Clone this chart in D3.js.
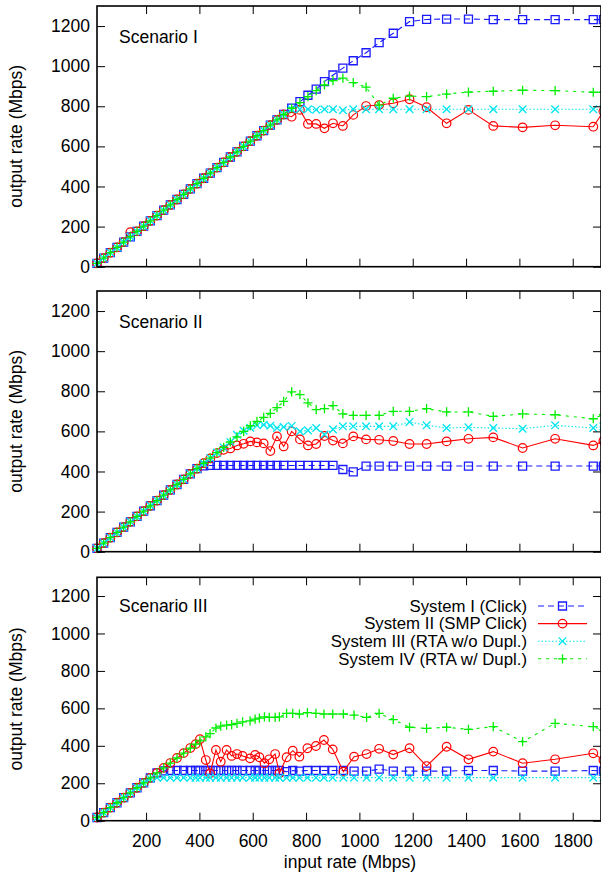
<!DOCTYPE html>
<html>
<head>
<meta charset="utf-8">
<script src="https://cdn.jsdelivr.net/npm/d3@7"></script>
<style>
body { margin: 0; background: #fff; }
svg { display: block; font-family: "Liberation Sans", Arial, Helvetica, sans-serif; }
</style>
</head>
<body>
<svg id="chart" width="601" height="878"></svg>
<script>
// input rate (Mbps) of the measurement points, scenarios I and II
var rateAB = [16,41,66,91,116,141,166,191,216,241,266,291,316,341,366,391,416,441,466,491,516,541,566,591,616,641,666,691,716,746,777,807,838,869,901,938,977,1025,1074,1127,1188,1252,1327,1409,1502,1612,1734,1877,1915];
// input rate (Mbps), scenario III
var rateC = [16,41,66,91,116,141,166,191,216,241,266,291,316,341,366,386,402,424,440,462,480,502,521,541,562,590,609,625,644,662,684,700,727,750,775,805,837,867,900,940,980,1027,1074,1127,1188,1252,1327,1409,1502,1612,1734,1877,1915];

var xTicks = [200,400,600,800,1000,1200,1400,1600,1800];
var yTicks = [0,200,400,600,800,1000,1200];

var scenarioNames = ["Scenario I", "Scenario II", "Scenario III"];
var systemNames = ["System I (Click)", "System II (SMP Click)", "System III (RTA w/o Dupl.)", "System IV (RTA w/ Dupl.)"];

// output rate (Mbps), scenario I
var s1Click = [17,43,70,96,123,149,176,202,229,255,282,308,335,361,388,414,441,467,494,520,547,573,600,626,653,679,706,732,759,791,823,855,885,923,956,990,1027,1067,1117,1164,1222,1233,1235,1235,1232,1232,1232,1232,1232];
var s1Smp = [17,43,70,96,123,172,176,202,229,255,282,308,335,361,388,414,441,467,494,520,547,573,600,626,653,679,706,732,759,748,782,712,712,690,715,702,757,801,806,815,835,795,715,782,702,695,705,698,775];
var s1RtaNoDup = [17,43,70,96,123,149,176,202,229,255,282,308,335,361,388,414,441,467,494,520,547,573,600,626,653,679,706,732,759,785,785,785,783,785,785,780,785,785,785,785,785,785,785,785,785,785,785,785,785];
var s1RtaDup = [17,43,70,96,123,149,176,202,229,255,282,308,335,361,388,414,441,467,494,520,547,573,600,626,653,679,706,732,759,790,818,848,878,906,928,940,918,895,806,840,851,848,861,871,875,880,878,870,870];

// output rate (Mbps), scenario II
var s2Click = [17,43,70,96,123,149,176,202,229,255,282,308,335,361,388,414,428,430,430,430,430,430,430,430,430,430,430,430,430,430,430,430,430,430,430,410,398,427,427,427,427,427,427,427,427,427,427,427,427];
var s2Smp = [17,43,70,96,123,149,176,202,229,255,282,308,335,361,388,414,441,465,492,508,515,530,538,550,545,540,502,575,525,600,560,530,537,577,554,540,575,560,558,552,537,537,550,563,570,517,563,530,552];
var s2RtaNoDup = [17,43,70,96,123,149,176,202,229,255,282,308,335,361,388,414,441,467,494,520,547,583,603,618,630,633,628,617,622,627,600,605,617,585,610,625,625,625,625,625,647,630,617,620,617,613,630,617,625];
var s2RtaDup = [17,43,70,96,123,149,176,202,229,255,282,308,335,361,388,414,441,467,494,520,547,573,600,628,650,670,690,718,750,797,783,742,708,713,728,687,680,680,680,700,700,713,697,697,675,687,683,663,683];

// output rate (Mbps), scenario III
var s3Click = [17,43,70,96,123,149,176,202,229,255,266,268,268,268,268,268,268,268,268,268,268,268,268,268,268,268,268,268,268,268,268,268,262,268,265,268,268,268,268,268,265,265,275,265,265,265,265,268,268,265,265,268,265];
var s3Smp = [17,43,70,96,123,149,176,202,229,255,282,308,335,361,388,409,435,324,253,378,315,378,346,356,346,333,351,339,307,328,356,253,339,374,342,387,399,431,381,262,342,356,384,353,387,292,395,328,369,307,328,360,324];
var s3RtaNoDup = [17,43,70,96,123,149,176,202,226,230,230,230,230,230,230,230,230,230,230,230,230,230,230,230,230,230,230,230,230,230,230,230,230,230,230,230,230,230,230,230,230,230,230,230,230,230,230,230,230,230,230,230,230];
var s3RtaDup = [17,43,70,96,123,149,176,202,229,255,282,308,335,361,388,409,426,448,465,495,505,511,513,520,528,533,542,548,555,552,552,555,573,573,570,577,573,570,570,570,564,552,573,540,499,493,499,488,502,422,520,502,484];

var scenarioRates = [rateAB, rateAB, rateC];
var scenarioSeries = [
	[s1Click, s1Smp, s1RtaNoDup, s1RtaDup],
	[s2Click, s2Smp, s2RtaNoDup, s2RtaDup],
	[s3Click, s3Smp, s3RtaNoDup, s3RtaDup]
];

// look of the four systems (gnuplot style)
var styles = [
	{color: "#1a1aff", dash: "6,4", mark: "square"},
	{color: "#ff0000", dash: null, mark: "circle"},
	{color: "#00e5ee", dash: "1.5,2", mark: "times"},
	{color: "#00ee00", dash: "3,5", mark: "plus"}
];

// plot areas, in pixels
var panels = [
	{top: 6, bottom: 266.7},
	{top: 291, bottom: 551.7},
	{top: 577.3, bottom: 820.7}
];
var plotLeft = 97, plotRight = 601;
var fontSize = 17.5;

var svg = d3.select("#chart");

var x = d3.scaleLinear().domain([16, 1906]).range([plotLeft, plotRight]);

function drawMark(g, kind, color) {
	if (kind == "circle") {
		g.append("circle").attr("r", 4.3)
			.attr("fill", "none").attr("stroke", color).attr("stroke-width", 1.2);
		return;
	}
	var d = "";
	if (kind == "square") d = "M-4,-4H4V4H-4Z";
	if (kind == "times") d = "M-3.8,-3.8L3.8,3.8M-3.8,3.8L3.8,-3.8";
	if (kind == "plus") d = "M-4.6,0H4.6M0,-4.6V4.6";
	g.append("path").attr("d", d)
		.attr("fill", "none").attr("stroke", color).attr("stroke-width", 1.3);
}

panels.forEach(function(p, i) {
	var y = d3.scaleLinear().domain([0, 1300]).range([p.bottom, p.top]);
	var rate = scenarioRates[i];
	var g = svg.append("g");

	// series: lines first, then points
	scenarioSeries[i].forEach(function(values, k) {
		var st = styles[k];
		var line = d3.line()
			.x(function(d, j) { return x(rate[j]); })
			.y(function(d) { return y(d); });
		g.append("path")
			.datum(values)
			.attr("d", line)
			.attr("fill", "none")
			.attr("stroke", st.color)
			.attr("stroke-width", 1.1)
			.attr("stroke-dasharray", st.dash);
		values.forEach(function(v, j) {
			var m = g.append("g").attr("transform", "translate(" + x(rate[j]) + "," + y(v) + ")");
			drawMark(m, st.mark, st.color);
		});
	});

	// axes with inward ticks on all four sides
	var left = svg.append("g").attr("transform", "translate(" + plotLeft + ",0)")
		.call(d3.axisLeft(y).tickValues(yTicks).tickSize(-8).tickPadding(7).tickFormat(d3.format("d")));
	var right = svg.append("g").attr("transform", "translate(" + plotRight + ",0)")
		.call(d3.axisRight(y).tickValues(yTicks).tickSize(-8).tickFormat(""));
	var top = svg.append("g").attr("transform", "translate(0," + p.top + ")")
		.call(d3.axisTop(x).tickValues(xTicks).tickSize(-8).tickFormat(""));
	var bottom = svg.append("g").attr("transform", "translate(0," + p.bottom + ")")
		.call(d3.axisBottom(x).tickValues(xTicks).tickSize(-8).tickPadding(14)
			.tickFormat(i == 2 ? d3.format("d") : ""));
	[left, right, top, bottom].forEach(function(a) {
		a.select(".domain").remove();
		a.selectAll("line").attr("stroke", "#000").attr("stroke-width", 1);
		a.selectAll("text").attr("font-size", fontSize).attr("fill", "#000")
			.style("font-family", "'Liberation Sans', Arial, sans-serif");
	});

	svg.append("rect")
		.attr("x", plotLeft).attr("y", p.top)
		.attr("width", plotRight - plotLeft).attr("height", p.bottom - p.top)
		.attr("fill", "none").attr("stroke", "#000").attr("stroke-width", 1.6);

	svg.append("text")
		.attr("x", 119)
		.attr("y", p.top + 0.141 * (p.bottom - p.top))
		.attr("font-size", fontSize)
		.text(scenarioNames[i]);

	svg.append("text")
		.attr("transform", "translate(22," + ((p.top + p.bottom) / 2) + ") rotate(-90)")
		.attr("text-anchor", "middle")
		.attr("font-size", fontSize)
		.text("output rate (Mbps)");

	if (i == 2) {
		// key
		systemNames.forEach(function(name, k) {
			var ky = 606 + k * 17.6;
			var st = styles[k];
			svg.append("text")
				.attr("x", 527).attr("y", ky).attr("dy", "0.35em")
				.attr("text-anchor", "end").attr("font-size", 16.8)
				.text(name);
			svg.append("line")
				.attr("x1", 538).attr("x2", 587).attr("y1", ky).attr("y2", ky)
				.attr("stroke", st.color).attr("stroke-width", 1.1)
				.attr("stroke-dasharray", st.dash);
			var m = svg.append("g").attr("transform", "translate(562.5," + ky + ")");
			drawMark(m, st.mark, st.color);
		});
	}
});

svg.append("text")
	.attr("x", 350).attr("y", 868)
	.attr("text-anchor", "middle")
	.attr("font-size", fontSize)
	.text("input rate (Mbps)");
</script>
</body>
</html>
